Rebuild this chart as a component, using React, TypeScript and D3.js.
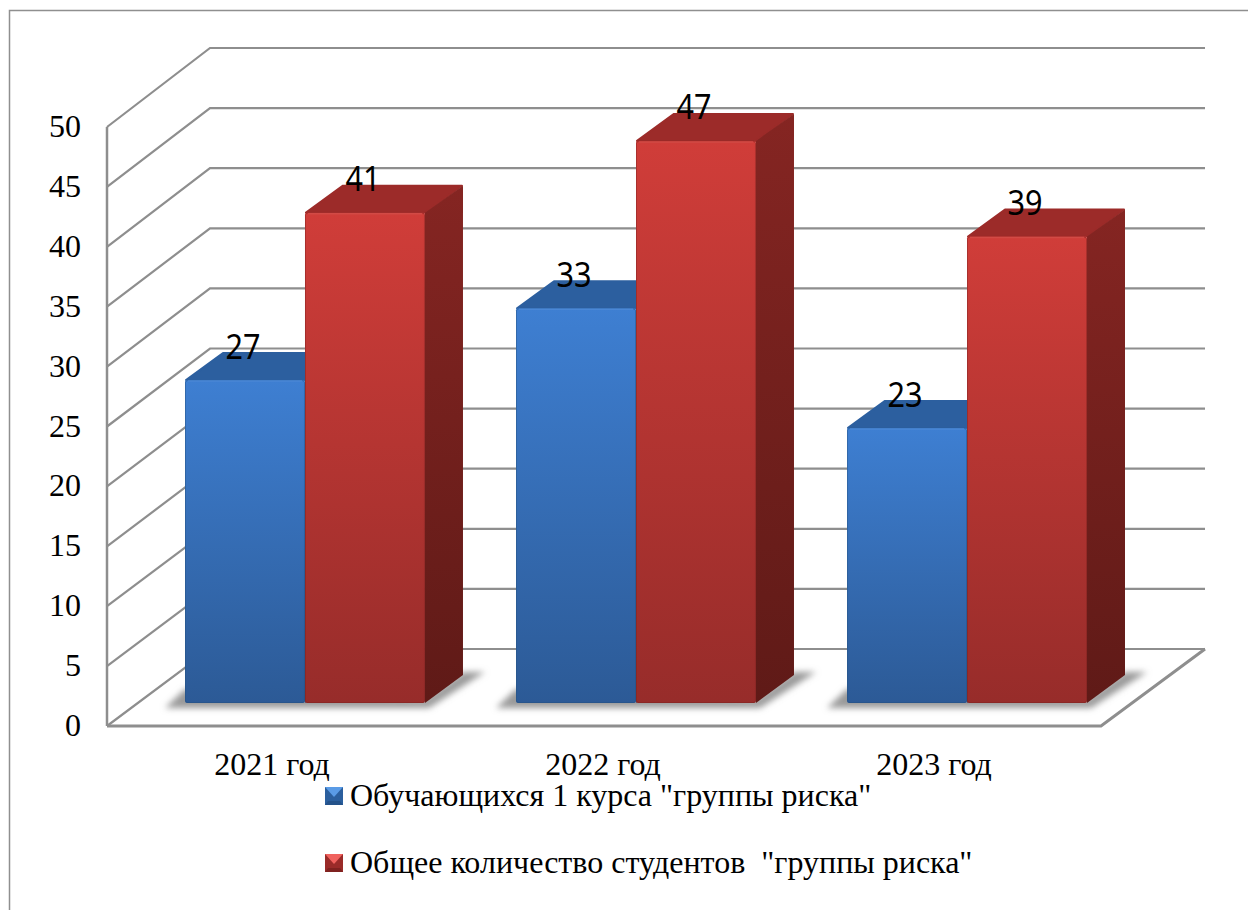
import React from "react";
import * as d3 from "d3";

const categories = ["2021 год", "2022 год", "2023 год"];
const seriesNames = ['Обучающихся 1 курса "группы риска"', 'Общее количество студентов  "группы риска"'];
const firstYear = [27, 33, 23];
const total = [41, 47, 39];
const ticks = [0, 5, 10, 15, 20, 25, 30, 35, 40, 45, 50];

const W = 1248, H = 910;
const yFront = d3.scaleLinear().domain([0, 50]).range([726, 127]);
const yBack = d3.scaleLinear().domain([0, 50]).range([649, 48]);
const yBar = d3.scaleLinear().domain([0, 50]).range([703, 105]);
const frontL = 107, backL = 210, backR = 1205, frontR = 1101;
const depthX = 38, depthY = 28;
const x0 = d3.scaleBand<string>().domain(categories).range([185, 1087]).paddingInner(0.275);
const x1 = d3.scaleBand<number>().domain([0, 1]).range([0, x0.bandwidth()]);
const serif = "'Liberation Serif', serif";
const sans = "'Noto Sans', sans-serif";
const grid = "#8e8e8e";

const palette = [
  { front: "url(#blueFront)", top: "#2c5f9f", side: "#24497a", edge: "#24507f", hi: "#4a87d6" },
  { front: "url(#redFront)", top: "#9c2b29", side: "url(#redSide)", edge: "#7c2220", hi: "#d24a45" },
];

const pts = (p: number[][]) => p.map((a) => a.join(",")).join(" ");

function Bar({ x, w, v, s }: { x: number; w: number; v: number; s: number }) {
  const t = yBar(v), b = yBar(0), c = palette[s];
  return (
    <g>
      <polygon points={pts([[x + 1, t], [x + depthX, t - depthY + 1], [x + w + depthX - 1, t - depthY + 1], [x + w, t]])} fill={c.top} stroke={c.top} strokeWidth={2} strokeLinejoin="round" />
      <polygon points={pts([[x + w, t], [x + w + depthX, t - depthY + 1], [x + w + depthX, b - depthY], [x + w, b]])} fill={c.side} />
      <rect x={x} y={t} width={w} height={b - t} rx={2} fill={c.front} />
      <rect x={x + 0.5} y={t + 0.5} width={w - 1} height={b - t - 1} rx={2} fill="none" stroke={c.edge} strokeOpacity={0.45} />
      <line x1={x + 3} x2={x + w - 3} y1={t + 1} y2={t + 1} stroke={c.hi} strokeWidth={1.5} />
    </g>
  );
}

function Icon({ y, s }: { y: number; s: number }) {
  const x = 325, z = 18, cols = s === 0
    ? { t: "#5a9be6", b: "#24528a", e: "#2b5f9e" }
    : { t: "#f0625e", b: "#7f2220", e: "#9a2b29" };
  return (
    <g>
      <rect x={x} y={y} width={z} height={z} fill={cols.e} />
      <polygon points={pts([[x, y], [x + z, y], [x + z / 2, y + z / 2 + 1]])} fill={cols.t} />
      <polygon points={pts([[x, y + z], [x + z, y + z], [x + z - 3, y + z - 4], [x + 3, y + z - 4]])} fill={cols.b} />
    </g>
  );
}

function Value({ x, y, v }: { x: number; y: number; v: number }) {
  return (
    <text x={x} y={y} textAnchor="middle" fontFamily={sans} fontSize={34} textLength={35} lengthAdjust="spacingAndGlyphs" fill="#000">{v}</text>
  );
}

export default function App() {
  return (
    <svg width={W} height={H} viewBox={`0 0 ${W} ${H}`} style={{ position: "absolute", left: 0, top: 0, background: "#fff" }}>
      <defs>
        <linearGradient id="blueFront" x1="0" x2="0" y1="0" y2="1">
          <stop offset="0" stopColor="#3e7fd2" />
          <stop offset="1" stopColor="#2c5a96" />
        </linearGradient>
        <linearGradient id="redFront" x1="0" x2="0" y1="0" y2="1">
          <stop offset="0" stopColor="#d03d39" />
          <stop offset="1" stopColor="#972c2a" />
        </linearGradient>
        <linearGradient id="redSide" x1="0" x2="0" y1="0" y2="1">
          <stop offset="0" stopColor="#852522" />
          <stop offset="1" stopColor="#5f1a17" />
        </linearGradient>
        <filter id="blur" x="-20%" y="-50%" width="140%" height="200%">
          <feGaussianBlur stdDeviation="3.2" />
        </filter>
      </defs>

      <path d={`M9.5 ${H} V10.5 H${W}`} fill="none" stroke="#8f8f8f" strokeWidth={1.5} />

      <line x1={frontL} x2={frontL} y1={yFront(0)} y2={yFront(50)} stroke={grid} strokeWidth={2.5} />
      {ticks.map((t) => (
        <path key={t} d={`M${frontL} ${yFront(t)} L${backL} ${yBack(t)} H${backR}`} fill="none" stroke={grid} strokeWidth={2.2} />
      ))}
      <path d={`M${frontL} ${yFront(0)} H${frontR} L${backR} ${yBack(0)}`} fill="none" stroke={grid} strokeWidth={3} />

      {ticks.map((t) => (
        <text key={t} x={81} y={yFront(t) + 10} textAnchor="end" fontFamily={serif} fontSize={32} fill="#000">{t}</text>
      ))}

      {categories.map((c, i) => {
        const gx = x0(c)!;
        const w = x1.bandwidth();
        const right = gx + 2 * w;
        const b = yBar(0);
        return (
          <g key={c}>
            <polygon filter="url(#blur)" fill="#9a9a9a"
              points={pts([[gx - 20, b + 5], [right + 4, b + 5], [right + depthX + 22, b - depthY - 3], [right + depthX, b - depthY - 3], [right, b - 4], [gx, b - 14]])} />
            <Bar x={gx + x1(0)!} w={w} v={firstYear[i]} s={0} />
            <Bar x={gx + x1(1)!} w={w} v={total[i]} s={1} />
            <Value x={gx + x1(0)! + w / 2 - 2} y={yBar(firstYear[i]) - 21} v={firstYear[i]} />
            <Value x={gx + x1(1)! + w / 2 - 2} y={yBar(total[i]) - 22} v={total[i]} />
            <text x={gx + w - 33} y={775} textAnchor="middle" fontFamily={serif} fontSize={32} fill="#000">{c}</text>
          </g>
        );
      })}

      {seriesNames.map((n, i) => (
        <g key={n}>
          <Icon y={787 + i * 67} s={i} />
          <text x={350} y={806 + i * 67} fontFamily={serif} fontSize={32} fill="#000" style={{ whiteSpace: "pre" }}>{n}</text>
        </g>
      ))}
    </svg>
  );
}
